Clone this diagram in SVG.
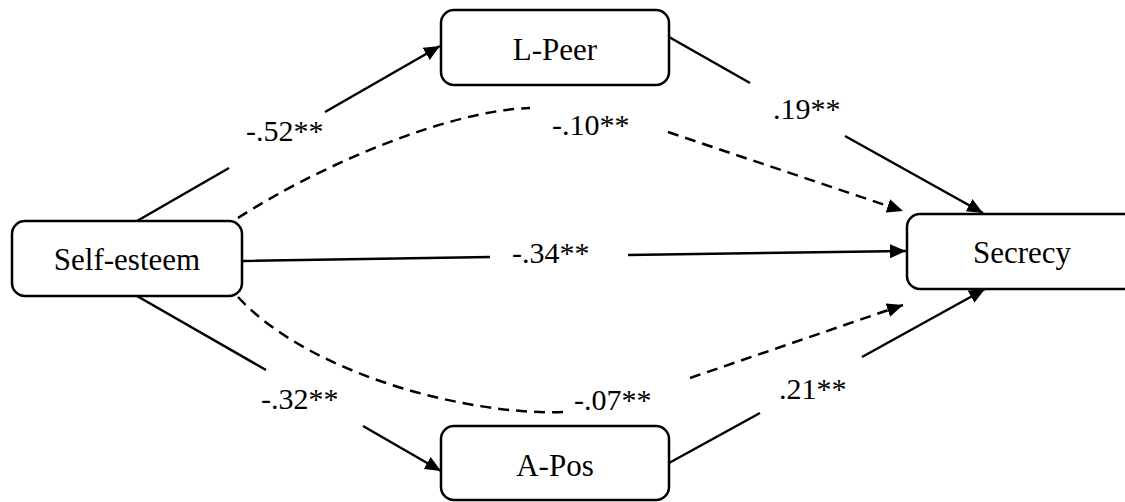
<svg xmlns="http://www.w3.org/2000/svg" width="1125" height="502" viewBox="0 0 1125 502">
<style>
.box{fill:#fff;stroke:#000;stroke-width:2.5}
.nt{font-size:31px;fill:#000;text-anchor:middle}
.lb{font-size:30px;fill:#000}
.ln{fill:none;stroke:#000;stroke-width:2.5}
.ds{fill:none;stroke:#000;stroke-width:2.5;stroke-dasharray:11 7}
</style>
<defs>
<marker id="ah" markerUnits="userSpaceOnUse" markerWidth="18" markerHeight="14" refX="16" refY="7" orient="auto">
<path d="M0,0 L16,7 L0,14 z" fill="#000"/>
</marker>
</defs>
<rect width="1125" height="502" fill="#fff"/>
<g id="connectors">
<path class="ln" d="M137,221 L229,168 M325,112 L440,46" marker-end="url(#ah)"/>
<path class="ln" d="M669,37 L750,83 M845,136 L983,213" marker-end="url(#ah)"/>
<path class="ds" d="M238,218 C320,165 450,110 530,108 M668,132 L903,211" marker-end="url(#ah)"/>
<path class="ln" d="M242,261 L490,257 M628,255 L906,251" marker-end="url(#ah)"/>
<path class="ln" d="M137,296 L266,370 M363,426 L441,471" marker-end="url(#ah)"/>
<path class="ln" d="M669,463 L760,413 M862,357 L985,289" marker-end="url(#ah)"/>
<path class="ds" d="M238,297 C310,375 470,416 565,412 M690,378 L903,305" marker-end="url(#ah)"/>
</g>
<g id="labels" font-family="'Liberation Serif', 'Times New Roman', Tinos, 'DejaVu Serif', serif">
<text class="lb" x="246" y="141">-.52**</text>
<text class="lb" x="552" y="135">-.10**</text>
<text class="lb" x="773" y="119">.19**</text>
<text class="lb" x="512" y="263">-.34**</text>
<text class="lb" x="261" y="409">-.32**</text>
<text class="lb" x="574" y="410">-.07**</text>
<text class="lb" x="779" y="399">.21**</text>
</g>
<g id="node-lpeer" font-family="'Liberation Serif', 'Times New Roman', Tinos, 'DejaVu Serif', serif"><rect class="box" x="441" y="10" width="228" height="75" rx="13"/><text class="nt" x="555" y="60">L-Peer</text></g>
<g id="node-selfesteem" font-family="'Liberation Serif', 'Times New Roman', Tinos, 'DejaVu Serif', serif"><rect class="box" x="12" y="221" width="230" height="75" rx="13"/><text class="nt" x="127" y="270">Self-esteem</text></g>
<g id="node-secrecy" font-family="'Liberation Serif', 'Times New Roman', Tinos, 'DejaVu Serif', serif"><rect class="box" x="907" y="214" width="232" height="75" rx="13"/><text class="nt" x="1022" y="263">Secrecy</text></g>
<g id="node-apos" font-family="'Liberation Serif', 'Times New Roman', Tinos, 'DejaVu Serif', serif"><rect class="box" x="441" y="426" width="228" height="74" rx="13"/><text class="nt" x="555" y="476">A-Pos</text></g>
</svg>
